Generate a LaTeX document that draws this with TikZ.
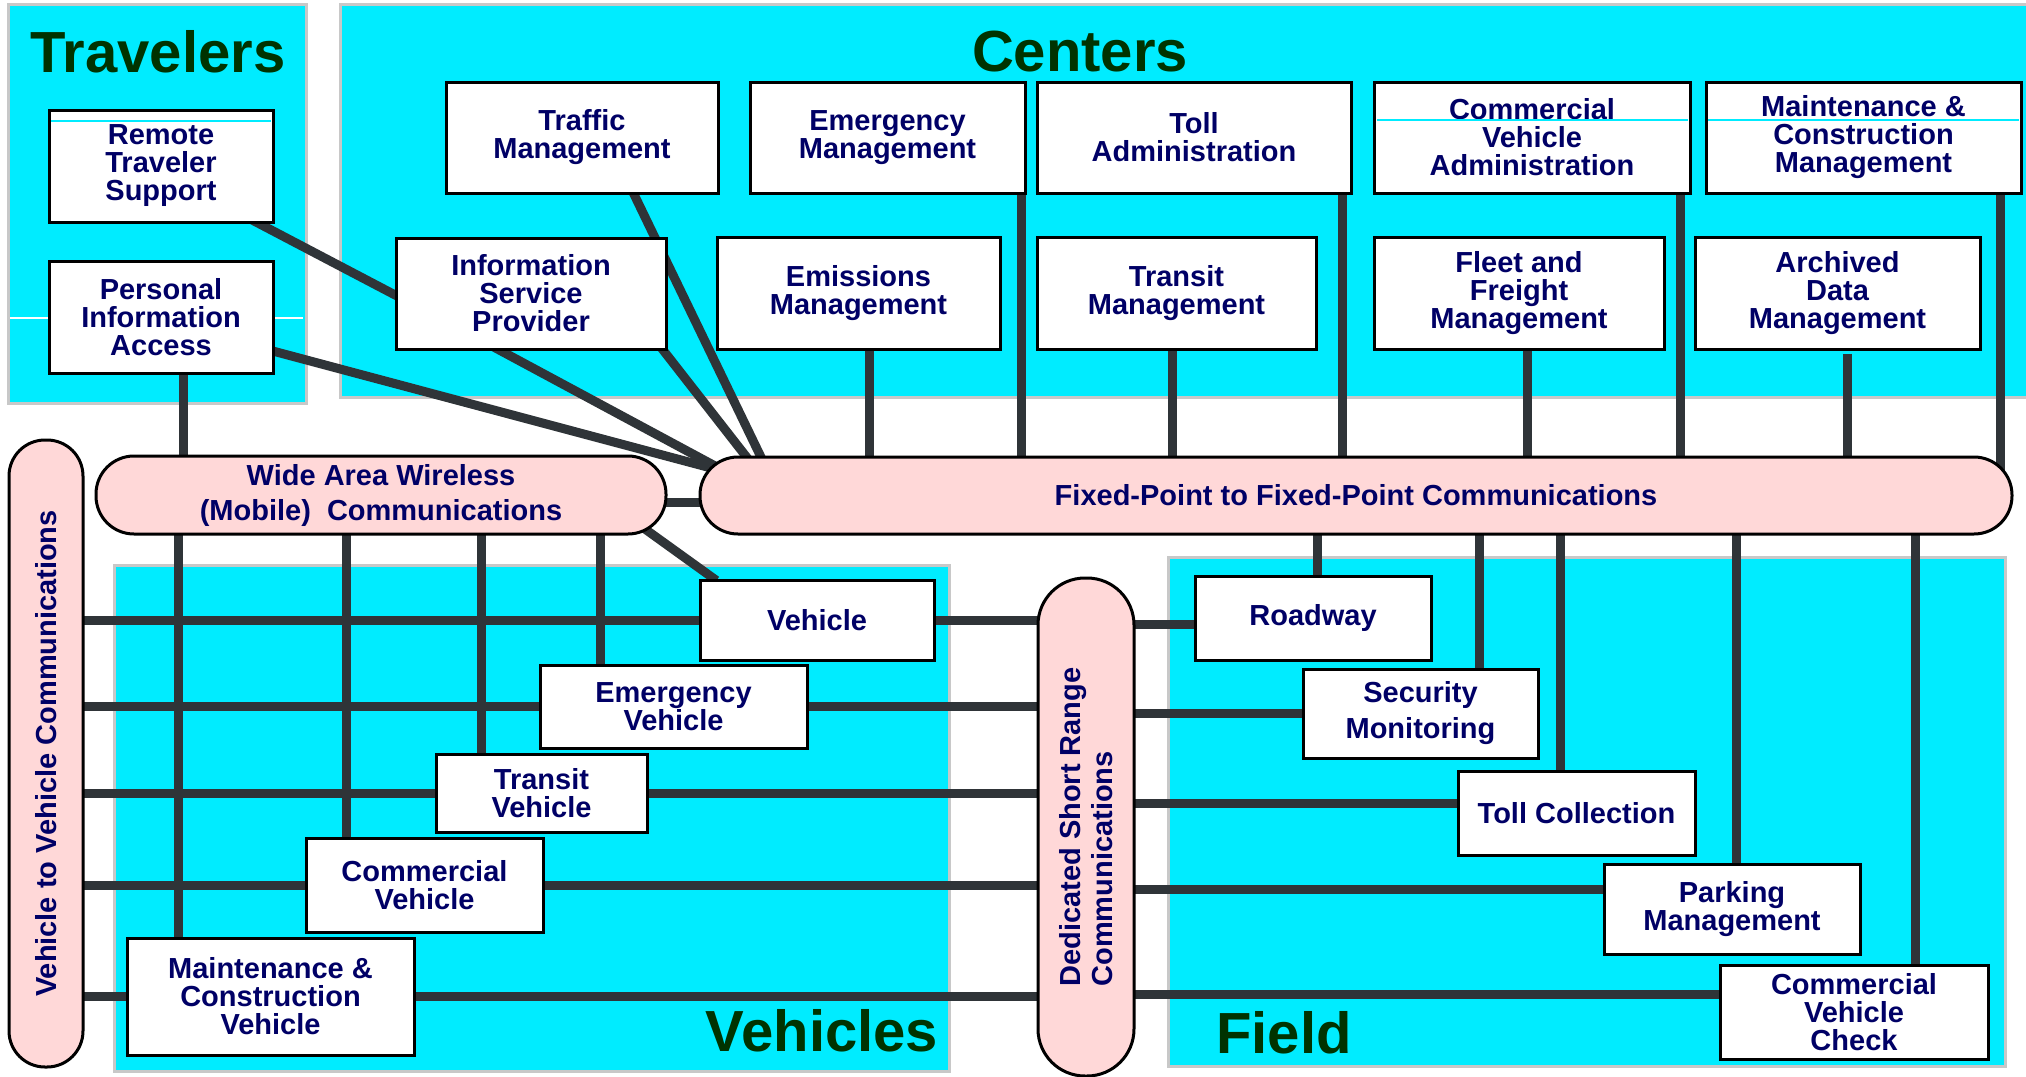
\documentclass[tikz,border=0pt]{standalone}
\usepackage{fontspec}
\setmainfont{Liberation Sans}
\usetikzlibrary{calc}
\definecolor{panelc}{RGB}{0,236,255}
\definecolor{panelb}{RGB}{200,200,200}
\definecolor{pillc}{RGB}{255,216,216}
\definecolor{linec}{RGB}{47,52,56}
\definecolor{txtc}{RGB}{0,0,102}
\definecolor{titc}{RGB}{0,51,0}
\pgfdeclarelayer{panels}
\pgfdeclarelayer{links}
\pgfsetlayers{panels,links,main}
% box from corner (x1,y1) to (x2,y2), in pixel units
\newcommand\mkbox[7][]{%
  \node[box,#1, minimum width={(#5-#3)*0.5pt}, minimum height={(#6-#4)*0.5pt}] (#2) at ({(#3+#5)/2},{(#4+#6)/2}) {#7};}
\begin{document}
\begin{tikzpicture}[x=0.5pt,y=-0.5pt,
  panel/.style={fill=panelc, draw=panelb, line width=1.5pt},
  box/.style={draw=black, fill=white, line width=1.5pt, inner sep=0pt, align=center, text=txtc, font=\bfseries\fontsize{14.5}{14}\selectfont},
  pill/.style={box, fill=pillc},
  conn/.style={draw=linec, line width=4.5pt},
  title/.style={text=titc, font=\bfseries\fontsize{29}{30}\selectfont, anchor=base, inner sep=0pt},
  glitch/.style={line width=0.6pt}
]
\useasboundingbox (0,0) rectangle (2026,1077);
\begin{pgfonlayer}{panels}
  \fill[white] (0,0) rectangle (2026,1077);
  \path[panel] (8,4) rectangle (306,403);
  \path[panel] (340,4) rectangle (2034,397);
  \path[panel] (114,565) rectangle (949,1071);
  \path[panel] (1168,557) rectangle (2005,1066);
  \draw[white, glitch] (10,318) -- (303,318);
\end{pgfonlayer}

% titles
\node[title] (ttrav) at (158,72) {Travelers};
\node[title] (tcent) at (1080,71) {Centers};
\node[title] (tveh) at (822,1051) {Vehicles};
\node[title] (tfield) at (1284,1053) {Field};

% travelers
\mkbox{rts}{49}{110}{273}{222}{Remote\\Traveler\\Support}
\mkbox{pia}{49}{261}{273}{373}{Personal\\Information\\Access}

% centers
\mkbox{tm}{446}{82}{718}{193}{Traffic\\Management}
\mkbox{em}{750}{82}{1025}{193}{Emergency\\Management}
\mkbox{ta}{1037}{82}{1351}{193}{Toll\\Administration}
\mkbox{cva}{1374}{82}{1690}{193}{Commercial\\Vehicle\\Administration}
\mkbox{mcm}{1706}{82}{2021}{193}{Maintenance \&\\Construction\\Management}
\mkbox{isp}{396}{238}{666}{349}{Information\\Service\\Provider}
\mkbox{emis}{717}{237}{1000}{349}{Emissions\\Management}
\mkbox{trm}{1037}{237}{1316}{349}{Transit\\Management}
\mkbox{ffm}{1374}{237}{1664}{349}{Fleet and\\Freight\\Management}
\mkbox{adm}{1695}{237}{1980}{349}{Archived\\Data\\Management}

% communications
\node[pill, rounded corners=18pt, rotate=90, minimum width=313.5pt, minimum height=37pt] (v2v) at (46,753.5) {Vehicle to Vehicle Communications};
\mkbox[pill, rounded corners=19pt, font=\bfseries\fontsize{14.5}{17.5}\selectfont]{waw}{96}{456}{666}{534}{Wide Area Wireless\\(Mobile)\ \ Communications}
\mkbox[pill, rounded corners=19pt]{fp}{700}{457}{2012}{534}{Fixed-Point to Fixed-Point Communications}
\node[pill, rounded corners=23.5pt, rotate=90, minimum width=249pt, minimum height=48pt, align=left, font=\bfseries\fontsize{14.5}{16}\selectfont] (dsrc) at (1086,827) {Dedicated Short Range\\Communications};

% vehicles
\mkbox{veh}{700}{580}{934}{660}{Vehicle}
\mkbox{ev}{540}{665}{807}{748}{Emergency\\Vehicle}
\mkbox{tv}{436}{754}{647}{832}{Transit\\Vehicle}
\mkbox{cv}{306}{838}{543}{932}{Commercial\\Vehicle}
\mkbox{mcv}{127}{938}{414}{1055}{Maintenance \&\\Construction\\Vehicle}

% field
\mkbox{rw}{1195}{576}{1431}{660}{Roadway}
\mkbox[font=\bfseries\fontsize{14.5}{18}\selectfont]{sm}{1303}{669}{1538}{758}{Security\\Monitoring}
\mkbox{tc}{1458}{771}{1695}{855}{Toll Collection}
\mkbox{pm}{1604}{864}{1860}{954}{Parking\\Management}
\mkbox{cvc}{1720}{965}{1988}{1059}{Commercial\\Vehicle\\Check}

% artefact lines inside boxes
\draw[panelc, glitch] (51,121) -- (271,121);
\draw[panelc, glitch] (1377,120) -- (1688,120);
\draw[panelc, glitch] (1708,120) -- (2019,120);

\begin{pgfonlayer}{links}
  % diagonals
  \draw[conn] ($(rts.south east)+(-29,-7)$) -- ($(isp.west)+(14,8.5)$);
  \draw[conn] ($(pia.south east)+(-13,-26.5)$) -- ($(fp.north west)+(22,15)$);
  \draw[conn] ($(isp.south)+(-47.5,-9)$) -- ($(fp.north west)+(25,15)$);
  \draw[conn] ($(isp.south east)+(-15,-14)$) -- ($(fp.north west)+(57,13)$);
  \draw[conn] ($(tm.south)+(41,-23)$) -- ($(fp.north west)+(68,13)$);
  \draw[conn] ($(waw.south east)+(-26,-9)$) -- ($(veh.north west)+(18,2)$);
  % wide area to fixed point
  \coordinate (a1) at ($(waw.center)+(0,7)$);
  \draw[conn] (a1) -- (a1 -| fp.center);
  % centers to fixed point
  \coordinate (c1) at ($(em.south east)+(-5,-5)$);
  \coordinate (c2) at ($(ta.south east)+(-10,-5)$);
  \coordinate (c3) at ($(cva.south east)+(-11,-5)$);
  \coordinate (c4) at ($(mcm.south east)+(-22,-5)$);
  \coordinate (c5) at ($(emis.south)+(10.5,-5)$);
  \coordinate (c6) at ($(trm.south)+(-4.5,-5)$);
  \coordinate (c7) at ($(ffm.south)+(8,-5)$);
  \coordinate (c8) at ($(adm.south)+(9.5,3)$);
  \foreach \c in {c1,c2,c3,c4,c5,c6,c7,c8} \draw[conn] (\c) -- (\c |- fp.center);
  % fixed point to field
  \coordinate (d1) at ($(rw.north)+(4.5,5)$);
  \coordinate (d2) at ($(sm.north)+(59,5)$);
  \coordinate (d3) at ($(tc.north)+(-16.5,5)$);
  \coordinate (d4) at ($(pm.north)+(4,5)$);
  \coordinate (d5) at ($(cvc.north)+(61,5)$);
  \foreach \d in {d1,d2,d3,d4,d5} \draw[conn] (\d |- fp.center) -- (\d);
  % wide area to travelers / vehicles
  \coordinate (e0) at ($(pia.south)+(22,-5)$);
  \draw[conn] (e0) -- (e0 |- waw.center);
  \coordinate (e1) at ($(mcv.north)+(-92.5,5)$);
  \coordinate (e2) at ($(cv.north)+(-78.5,5)$);
  \coordinate (e3) at ($(tv.north)+(-60.5,5)$);
  \coordinate (e4) at ($(ev.north)+(-73.5,5)$);
  \foreach \e in {e1,e2,e3,e4} \draw[conn] (\e |- waw.center) -- (\e);
  % vehicle to vehicle through to DSRC
  \foreach \v in {veh,ev,tv,cv,mcv} \draw[conn] (v2v.center |- \v.center) -- (dsrc.center |- \v.center);
  % DSRC to field
  \coordinate (f1) at ($(rw.center)+(0,6)$);
  \coordinate (f2) at (sm.center);
  \coordinate (f3) at ($(tc.center)+(0,-10)$);
  \coordinate (f4) at ($(pm.center)+(0,-20)$);
  \coordinate (f5) at ($(cvc.center)+(0,-18)$);
  \foreach \f in {f1,f2,f3,f4,f5} \draw[conn] (\f -| dsrc.center) -- (\f);
\end{pgfonlayer}
\end{tikzpicture}
\end{document}
